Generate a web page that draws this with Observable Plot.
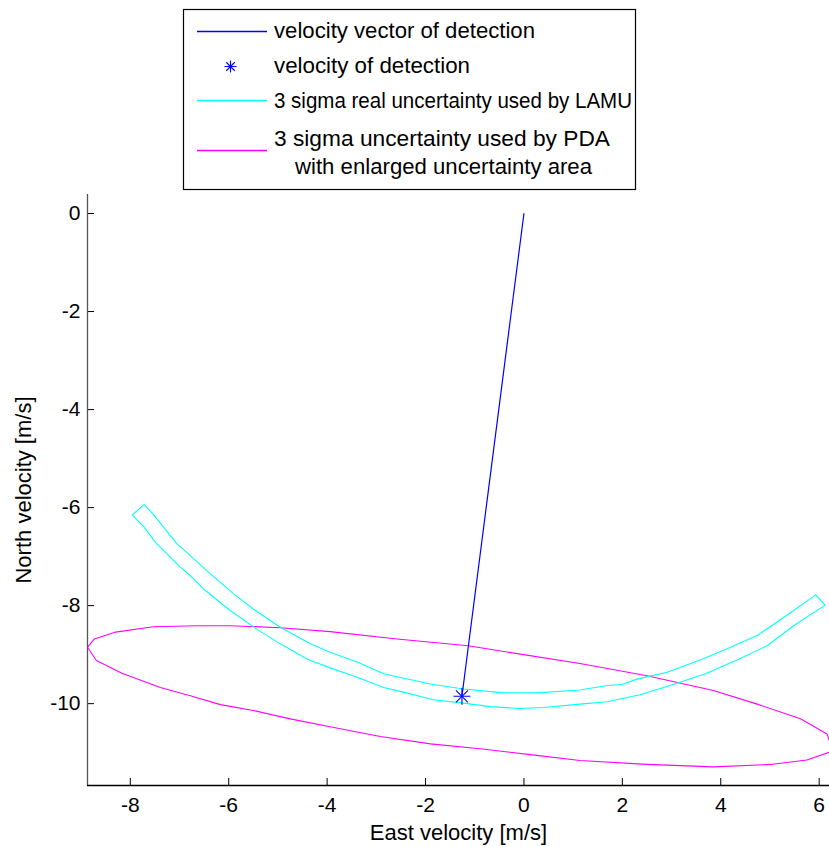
<!DOCTYPE html>
<html>
<head>
<meta charset="utf-8">
<script src="https://cdn.jsdelivr.net/npm/d3@7"></script>
<script src="https://cdn.jsdelivr.net/npm/@observablehq/plot@0.6"></script>
<style>
  html, body { margin: 0; padding: 0; background: #fff; }
  #wrap { width: 829px; height: 847px; overflow: hidden; font-family: "Liberation Sans", Arial, sans-serif; }
  svg { display: block; }
</style>
</head>
<body>
<div id="wrap"></div>
<script>
// ---- data ----
const xTicks = [-8, -6, -4, -2, 0, 2, 4, 6];
const yTicks = [0, -2, -4, -6, -8, -10];

const detectionEast = -1.26;
const detectionNorth = -9.85;

// cyan band (3 sigma real uncertainty used by LAMU), closed outline
const cyanEast = [
  -7.72, -7.54, -7.05, -6.78, -6.44, -5.90, -5.50, -4.95, -4.34, -3.94, -3.39, -2.85, -1.90, -1.23, -0.41, 0.26,
  1.14, 1.69, 1.99, 2.30, 2.91, 3.58, 4.13, 4.74, 5.41, 5.93,
  6.12,
  5.48, 4.94, 4.33, 3.69, 2.97, 2.36, 1.69, 1.14, 0.40, -0.08, -0.68, -1.23, -1.84, -2.51, -2.85, -3.39, -3.94,
  -4.41, -4.95, -5.43, -5.97, -6.51, -6.78, -7.00, -7.49, -7.72, -7.96,
  -7.72
];
const cyanNorth = [
  -5.94, -6.13, -6.74, -6.98, -7.29, -7.76, -8.07, -8.44, -8.78, -8.95, -9.15, -9.39, -9.60, -9.70, -9.78, -9.78,
  -9.72, -9.63, -9.61, -9.50, -9.36, -9.11, -8.88, -8.61, -8.15, -7.78,
  -7.99,
  -8.41, -8.82, -9.11, -9.39, -9.63, -9.82, -9.96, -10.01, -10.08, -10.10, -10.06, -9.99, -9.92, -9.75, -9.67, -9.46, -9.27,
  -9.09, -8.78, -8.48, -8.10, -7.66, -7.39, -7.20, -6.71, -6.40, -6.15,
  -5.94
];

// magenta ellipse (3 sigma uncertainty used by PDA), closed outline
const magentaEast = [
  -8.87, -8.73, -8.30, -7.53, -6.65, -5.97, -4.95, -3.94, -2.58, -1.13, -0.01, 1.14, 2.50, 3.85, 4.74, 5.62, 6.16, 6.21,
  6.32,
  6.21, 5.75, 5.01, 3.85, 2.50, 1.14, 0.13, -0.89, -1.90, -2.92, -3.94, -4.75, -5.50, -6.17, -6.78, -7.39, -8.17, -8.69,
  -8.87
];
const magentaNorth = [
  -8.85, -8.68, -8.54, -8.43, -8.41, -8.41, -8.45, -8.53, -8.68, -8.82, -9.00, -9.18, -9.43, -9.73, -10.01, -10.31, -10.62, -10.76,
  -10.88,
  -10.99, -11.15, -11.24, -11.29, -11.24, -11.16, -11.04, -10.92, -10.82, -10.67, -10.47, -10.31, -10.14, -10.02, -9.84, -9.67, -9.38, -9.12,
  -8.85
];

const legendLabels = [
  "velocity vector of detection",
  "velocity of detection",
  "3 sigma real uncertainty used by LAMU",
  "3 sigma uncertainty used by PDA",
  "with enlarged uncertainty area"
];

const BLUE = "#0000ff", CYAN = "#00ffff", MAGENTA = "#ff00ff";
const FONT = "'Liberation Sans', Arial, sans-serif";

// ---- build tables ----
const zip = (xs, ys) => xs.map((x, i) => ({east: x, north: ys[i]}));
const cyan = zip(cyanEast, cyanNorth);
const magenta = zip(magentaEast, magentaNorth);
const vector = [{east: 0, north: 0}, {east: detectionEast, north: detectionNorth}];
const detection = [{east: detectionEast, north: detectionNorth}];

// ---- legend (above the plot) ----
const wrap = document.getElementById("wrap");
const ns = "http://www.w3.org/2000/svg";
const leg = d3.create("svg").attr("xmlns", ns).attr("width", 829).attr("height", 194)
  .style("font-family", FONT).style("font-size", "22px");
leg.append("rect").attr("x", 183.5).attr("y", 9.5).attr("width", 452).attr("height", 180)
  .attr("fill", "#fff").attr("stroke", "#000").attr("stroke-width", 1.2);
leg.append("line").attr("x1", 197).attr("x2", 267).attr("y1", 31.5).attr("y2", 31.5).attr("stroke", BLUE).attr("stroke-width", 1.3);
// star symbol
const sx = 230.5, sy = 66.5, sr = 6;
[[0, 1], [1, 0], [0.7071, 0.7071], [0.7071, -0.7071]].forEach(([a, b]) => {
  leg.append("line").attr("x1", sx - a * sr).attr("x2", sx + a * sr).attr("y1", sy - b * sr).attr("y2", sy + b * sr)
    .attr("stroke", BLUE).attr("stroke-width", 1.1);
});
leg.append("line").attr("x1", 197).attr("x2", 267).attr("y1", 100.5).attr("y2", 100.5).attr("stroke", CYAN).attr("stroke-width", 1.3);
leg.append("line").attr("x1", 197).attr("x2", 267).attr("y1", 150.5).attr("y2", 150.5).attr("stroke", MAGENTA).attr("stroke-width", 1.3);
const legText = (x, y, s, len, anchor) => leg.append("text").attr("x", x).attr("y", y)
  .attr("text-anchor", anchor || "start").attr("textLength", len).attr("lengthAdjust", "spacingAndGlyphs").text(s);
legText(274, 37.5, legendLabels[0], 261);
legText(274, 72.5, legendLabels[1], 196);
legText(274, 108, legendLabels[2], 358);
legText(274, 145.5, legendLabels[3], 336);
legText(295, 174, legendLabels[4], 297);
wrap.appendChild(leg.node());

// ---- plot ----
const xDomain = [-8.87, 6.21];
const yDomain = [-11.67, 0.388];

const chart = Plot.plot({
  width: 829,
  height: 653,
  marginTop: 0,
  marginBottom: 62,
  marginLeft: 87,
  marginRight: 0,
  style: {fontFamily: FONT, fontSize: "21px", background: "#fff", color: "#000", overflow: "visible"},
  x: {domain: xDomain},
  y: {domain: yDomain},
  marks: [
    Plot.line(magenta, {x: "east", y: "north", stroke: MAGENTA, strokeWidth: 1.1, clip: true}),
    Plot.line(cyan, {x: "east", y: "north", stroke: CYAN, strokeWidth: 1.1, clip: true}),
    Plot.line(vector, {x: "east", y: "north", stroke: BLUE, strokeWidth: 1.2}),
    Plot.dot(detection, {x: "east", y: "north", symbol: "plus", r: 5.5, stroke: BLUE, strokeWidth: 1.1}),
    Plot.dot(detection, {x: "east", y: "north", symbol: "times", r: 5.5, stroke: BLUE, strokeWidth: 1.1}),
    Plot.axisX(xTicks, {tickSize: -7, tickPadding: 19, tickFormat: d => String(d), label: null, fontSize: 21}),
    Plot.axisY(yTicks, {tickSize: -7, tickPadding: 14, tickFormat: d => String(d), label: null, fontSize: 21}),
    Plot.ruleX([xDomain[0]], {stroke: "#555", strokeWidth: 1.3}),
    Plot.ruleY([yDomain[0]], {stroke: "#000", strokeWidth: 1.3}),
    Plot.text(["East velocity [m/s]"], {frameAnchor: "bottom", textAnchor: "middle", lineAnchor: "middle", dy: 47, fontSize: 22, text: d => d}),
    Plot.text(["North velocity [m/s]"], {frameAnchor: "left", textAnchor: "middle", lineAnchor: "middle", dx: -64, rotate: -90, fontSize: 22, text: d => d})
  ]
});
wrap.appendChild(chart);
</script>
</body>
</html>
